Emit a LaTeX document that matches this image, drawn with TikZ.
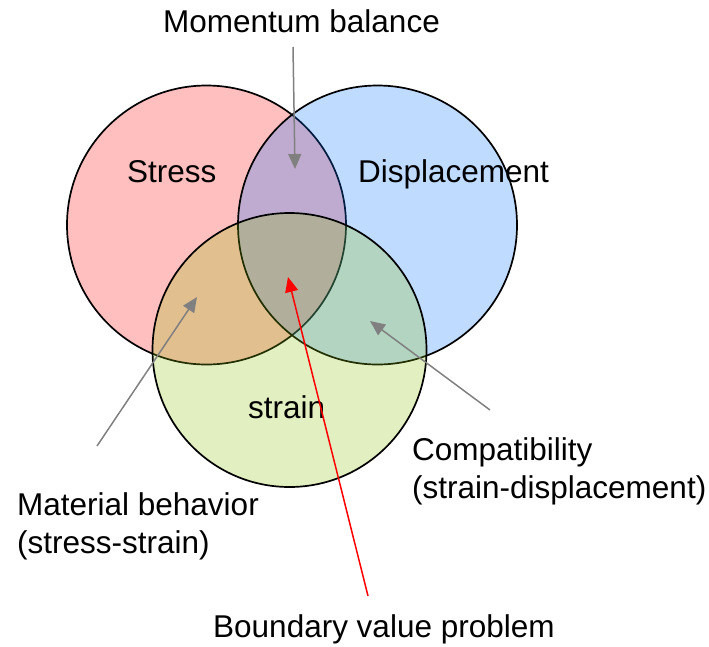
\documentclass[tikz,border=0pt]{standalone}
\usepackage{fontspec}
\setmainfont{Liberation Sans}
\usetikzlibrary{arrows.meta}
\definecolor{cstress}{RGB}{255,0,0}
\definecolor{cdisp}{RGB}{0,111,255}
\definecolor{cstrain}{RGB}{139,191,3}
\definecolor{cgrayarrow}{RGB}{128,128,128}
\begin{document}
\begin{tikzpicture}[x=1pt,y=-1pt,
  venn/.style={draw=black,line width=1.7pt,fill opacity=0.25},
  lbl/.style={inner sep=0pt,anchor=base west,font=\fontsize{31.5}{36}\selectfont},
  grayarrow/.style={draw=cgrayarrow,line width=1.5pt,-{Triangle[length=15pt,width=13pt]}},
  redarrow/.style={draw=red,line width=1.5pt,-{Triangle[length=15pt,width=13pt]}}]
\useasboundingbox (0,0) rectangle (709,646);
% circles
\path[venn,fill=cstress] (206.5,225) circle[radius=139.5];
\path[venn,fill=cdisp] (377.5,225) circle[radius=139.5];
\path[venn,fill=cstrain] (289.5,350) circle[radius=137];
% labels
\node[lbl] (stress) at (127,182) {Stress};
\node[lbl] (disp) at (358,182) {Displacement};
\node[lbl] (strain) at (248,418) {strain};
\node[lbl] (mom) at (163,32) {Momentum balance};
\node[lbl] (comp1) at (412,460) {Compatibility};
\node[lbl] (comp2) at (412,498) {(strain-displacement)};
\node[lbl] (mat1) at (17,515) {Material behavior};
\node[lbl] (mat2) at (17,553) {(stress-strain)};
\node[lbl] (bvp) at (213,637) {Boundary value problem};
% arrow end points
\coordinate (momtail) at (293,47);
\coordinate (momtip) at (295,169);
\coordinate (mattail) at (97,446);
\coordinate (mattip) at (197,297);
\coordinate (comptail) at (490,410);
\coordinate (comptip) at (370,321);
\coordinate (bvptail) at (368,596);
\coordinate (bvptip) at (288,277);
% arrows
\draw[grayarrow] (momtail) -- (momtip);
\draw[grayarrow] (mattail) -- (mattip);
\draw[grayarrow] (comptail) -- (comptip);
\draw[redarrow] (bvptail) -- (bvptip);
\end{tikzpicture}
\end{document}
